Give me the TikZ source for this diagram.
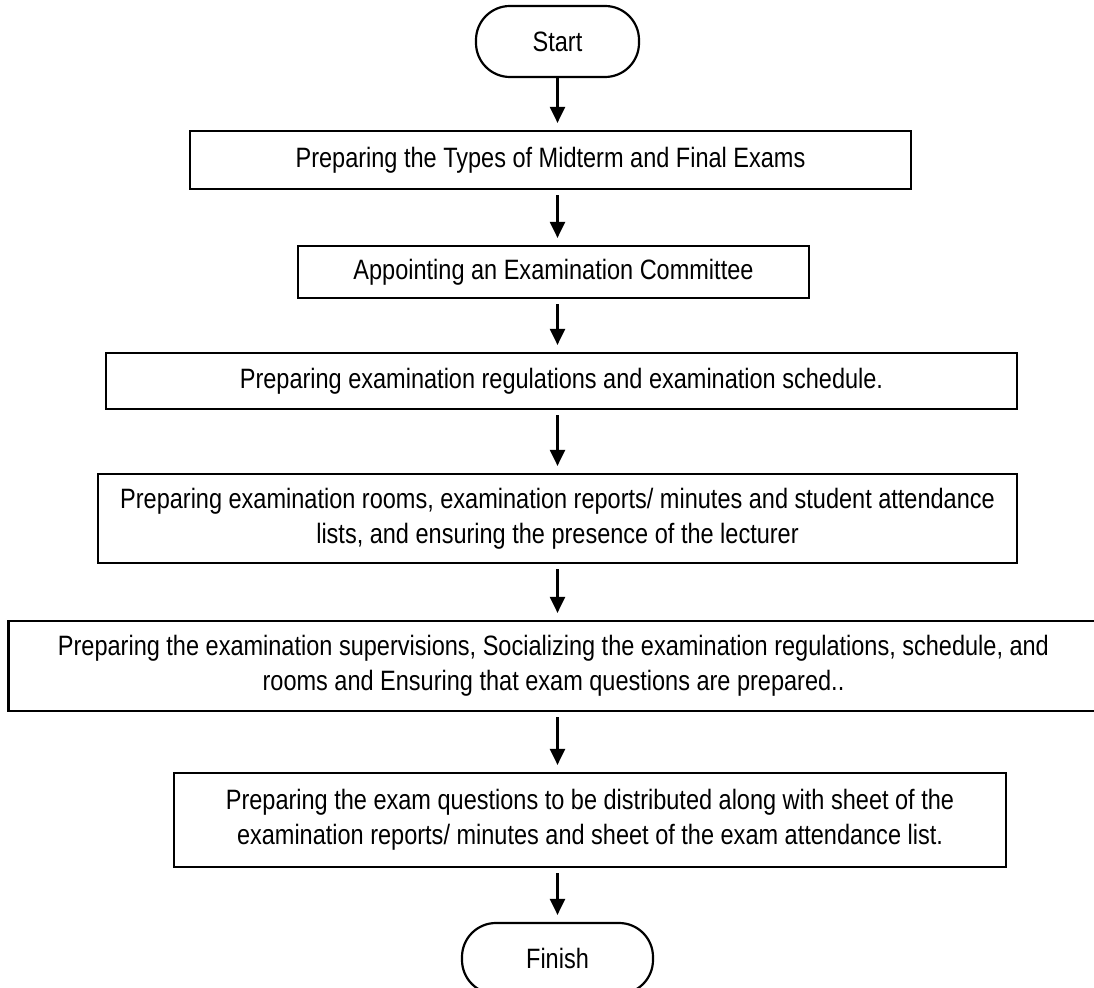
\documentclass[tikz,border=0pt]{standalone}
\usepackage{fontspec}
\setmainfont{Liberation Sans}[FakeStretch=0.84]
\usetikzlibrary{arrows.meta}
\begin{document}
\begin{tikzpicture}[x=0.5pt,y=-0.5pt,
  box/.style={draw, line width=1.1pt, rectangle, align=center, inner sep=0pt,
    font=\fontsize{14}{17.5}\selectfont},
  term/.style={box, rounded corners=17pt},
  arr/.style={line width=1.1pt, -{Triangle[length=8pt,width=7.5pt]}, shorten >=3.5pt, shorten <=2.5pt}]
\useasboundingbox (0,0) rectangle (1094,988);
\node[term, minimum width=81.5pt, minimum height=35.5pt] (start) at (557.5,41.5) {Start};
\node[box, minimum width=360.5pt, minimum height=29pt] (b1) at (550.5,160) {Preparing the Types of Midterm and Final Exams};
\node[box, minimum width=255.5pt, minimum height=26pt] (b2) at (553.5,272) {Appointing an Examination Committee};
\node[box, minimum width=455.5pt, minimum height=28pt] (b3) at (561.5,381) {Preparing examination regulations and examination schedule.};
\node[box, minimum width=459.5pt, minimum height=44.5pt] (b4) at (557.5,518.5) {Preparing examination rooms, examination reports/ minutes and student attendance\\lists, and ensuring the presence of the lecturer};
\node[box, minimum width=545pt, minimum height=45pt] (b5) at (553.5,666) {Preparing the examination supervisions, Socializing the examination regulations, schedule, and\\rooms and Ensuring that exam questions are prepared..};
\node[box, minimum width=416pt, minimum height=47pt] (b6) at (590,820) {Preparing the exam questions to be distributed along with sheet of the\\examination reports/ minutes and sheet of the exam attendance list.};
\node[term, minimum width=95.5pt, minimum height=35.5pt] (finish) at (557.5,958.5) {Finish};
\draw[arr, shorten <=0pt] (start.south) -- (b1.north -| start.south);
\draw[arr] (b1.south -| start.south) -- (b2.north -| start.south);
\draw[arr] (b2.south -| start.south) -- (b3.north -| start.south);
\draw[arr] (b3.south -| start.south) -- (b4.north -| start.south);
\draw[arr] (b4.south -| start.south) -- (b5.north -| start.south);
\draw[arr] (b5.south -| start.south) -- (b6.north -| start.south);
\draw[arr] (b6.south -| start.south) -- (finish.north);
\end{tikzpicture}
\end{document}
